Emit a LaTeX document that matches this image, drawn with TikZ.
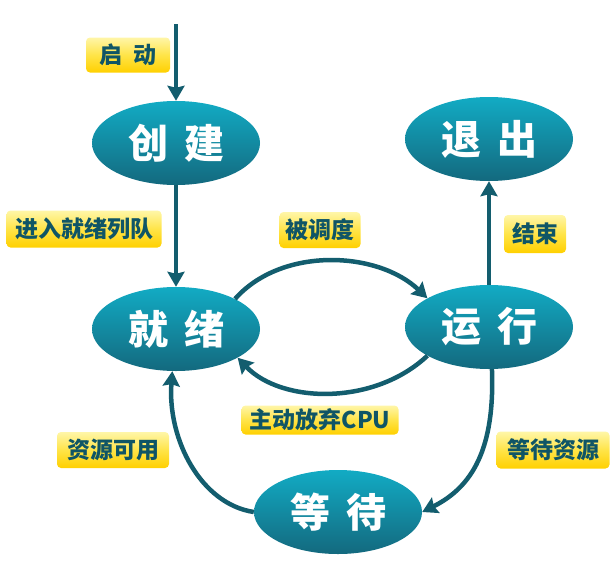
\documentclass[tikz,border=0pt]{standalone}
\usepackage{fontspec}
\newfontfamily\cjk{Noto Sans CJK SC}
\usetikzlibrary{shapes.geometric,arrows.meta}
\definecolor{arrowc}{HTML}{135D6E}
\definecolor{elltop}{HTML}{12ABC4}
\definecolor{ellbot}{HTML}{13697E}
\definecolor{labtop}{HTML}{FFF6A8}
\definecolor{labmid}{HTML}{FFE448}
\definecolor{labbot}{HTML}{FFD000}
\definecolor{labtext}{HTML}{0F5566}
\tikzset{
  state/.style={ellipse, draw=none, minimum width=168pt, minimum height=84pt, inner sep=0pt,
    top color=elltop, bottom color=ellbot, text=white,
    font=\cjk\bfseries\fontsize{40}{44}\selectfont},
  tag/.style={rectangle, rounded corners=4pt, draw=none, inner xsep=4pt, inner ysep=0pt,
    minimum height=36pt, top color=labtop, bottom color=labbot, middle color=labmid,
    text=labtext, font=\cjk\bfseries\fontsize{23}{26}\selectfont},
  flow/.style={draw=arrowc, line width=4.5pt, -{Stealth[length=15pt,width=17pt,inset=2pt]}}
}
\begin{document}
\begin{tikzpicture}[x=1pt,y=-1pt]
\useasboundingbox (0,0) rectangle (612,570);
\node[state] (create) at (176,143) {创\hspace{16pt}建};
\node[state] (exit) at (489,139) {退\hspace{16pt}出};
\node[state] (ready) at (176,329) {就\hspace{16pt}绪};
\node[state] (run) at (489,327) {运\hspace{16pt}行};
\node[state] (wait) at (338,512) {等\hspace{16pt}待};
\coordinate (start) at (176,24);

\draw[flow] (start) -- (create.north);
\draw[flow] (create.south) -- (ready.north);
\draw[flow] (run.north) -- (exit.south);
\draw[flow] (ready.27) .. controls +(47,-53) and +(-49,-47) .. (run.155);
\draw[flow] (run.205) .. controls +(-53,50) and +(44,46) .. (ready.-25);
\draw[flow] (run.-86) .. controls +(3,80) and +(50,-25) .. (wait.east);
\draw[flow] (wait.west) .. controls +(-53,-8) and +(-5,68) .. (ready.-95);

\node[tag, minimum width=84pt, minimum height=35pt] (l1) at (128,55) {启\hspace{12pt}动};
\node[tag, minimum width=155pt, minimum height=37pt] (l2) at (84,229) {进入就绪列队};
\node[tag, minimum width=81pt] (l3) at (320,230) {被调度};
\node[tag, minimum width=62pt, minimum height=38pt] (l4) at (535,234) {结束};
\node[tag, minimum width=157pt, minimum height=29pt] (l5) at (320,420) {主动放弃CPU};
\node[tag, minimum width=113pt, minimum height=37pt] (l6) at (553,450) {等待资源};
\node[tag, minimum width=112pt] (l7) at (113,450) {资源可用};
\end{tikzpicture}
\end{document}
